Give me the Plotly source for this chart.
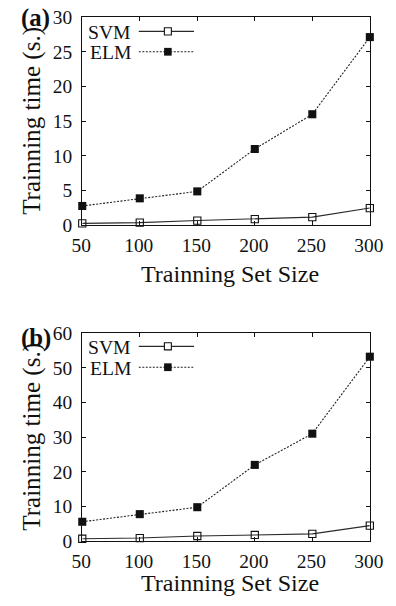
import plotly.graph_objects as go

W, H = 396, 606

# ---- data ----
sizes = [50, 100, 150, 200, 250, 300]
svm_a = [0.3, 0.4, 0.7, 0.9, 1.2, 2.5]
elm_a = [2.8, 3.9, 4.9, 11.0, 16.0, 27.1]
svm_b = [0.7, 0.9, 1.5, 1.8, 2.1, 4.5]
elm_b = [5.6, 7.8, 9.8, 22.0, 31.0, 53.2]

x_title = "Trainning Set Size"
y_title = "Trainning time (s.)"
panel_labels = ["(a)", "(b)"]
series_names = ["SVM", "ELM"]

FONT = "Liberation Serif"
INK = "#111111"

# layout placement helpers (target picture px -> paper fraction)
AX, SX = 3.2, 0.9663
AY, SY = 9.0, 0.971
S = (SX + SY) / 2


def fx(px):
    return ((px - AX) / SX) / W


def fy(py):
    return 1 - ((py - AY) / SY) / H


def fs(size):
    return size / S


panels = [
    dict(svm=svm_a, elm=elm_a, top=16, bottom=225.7, ymax=30, dt=5,
         xt=274.3, leg=[30.5, 51.0], lab=17.5),
    dict(svm=svm_b, elm=elm_b, top=334, bottom=543.3, ymax=60, dt=10,
         xt=585.0, leg=[347.3, 368.3], lab=339.0),
]
LEFT, RIGHT = 76.7, 373.3

fig = go.Figure()
for i, p in enumerate(panels):
    xa = "x" if i == 0 else "x2"
    ya = "y" if i == 0 else "y2"
    fig.add_trace(go.Scatter(
        x=sizes, y=p["svm"], mode="lines+markers", name=series_names[0],
        xaxis=xa, yaxis=ya, cliponaxis=False, showlegend=False,
        line=dict(color="#2a2a2a", width=1.1),
        marker=dict(symbol="square-open", size=fs(7), color=INK, line=dict(width=1.1, color=INK)),
    ))
    fig.add_trace(go.Scatter(
        x=sizes, y=p["elm"], mode="lines+markers", name=series_names[1],
        xaxis=xa, yaxis=ya, cliponaxis=False, showlegend=False,
        line=dict(color="#222222", width=1.1, dash="2px,1.5px"),
        marker=dict(symbol="square", size=fs(7.8), color=INK, line=dict(width=0)),
    ))

axis_common = dict(
    showline=True, linecolor=INK, linewidth=1.3, mirror="ticks",
    ticks="inside", ticklen=4, tickwidth=1, tickcolor=INK,
    showgrid=False, zeroline=False,
    tickfont=dict(family=FONT, size=fs(18.8), color=INK),
    ticklabeloverflow="allow",
)

layout = dict(
    width=W, height=H, margin=dict(l=0, r=0, t=0, b=0),
    paper_bgcolor="white", plot_bgcolor="white", showlegend=False,
    font=dict(family=FONT, color=INK),
)
for i, p in enumerate(panels):
    sfx = "" if i == 0 else str(i + 1)
    layout["xaxis" + sfx] = dict(
        axis_common, domain=[fx(LEFT), fx(RIGHT)], range=[50, 300],
        tickvals=sizes, anchor="y" + sfx, ticklabelstandoff=2, ticklabelshift=-1,
    )
    layout["yaxis" + sfx] = dict(
        axis_common, domain=[fy(p["bottom"]), fy(p["top"])],
        range=[0, p["ymax"]], dtick=p["dt"], tick0=0, anchor="x" + sfx,
        ticklabelstandoff=5,
    )
fig.update_layout(**layout)

annotations = []
shapes = []
for i, p in enumerate(panels):
    top, bottom = p["top"], p["bottom"]
    annotations.append(dict(
        text="<b>" + panel_labels[i] + "</b>", xref="paper", yref="paper",
        x=fx(11), y=fy(p["lab"]), xanchor="left", yanchor="middle", showarrow=False,
        font=dict(family=FONT, size=fs(24), color=INK),
    ))
    annotations.append(dict(
        text=x_title, xref="paper", yref="paper",
        x=fx(229), y=fy(p["xt"]), xanchor="center", yanchor="middle", showarrow=False,
        font=dict(family=FONT, size=fs(23.3), color=INK),
    ))
    annotations.append(dict(
        text=y_title, xref="paper", yref="paper", textangle=-90,
        x=fx(25.5), y=fy((top + bottom) / 2), xanchor="center", yanchor="middle",
        showarrow=False, font=dict(family=FONT, size=fs(24.3), color=INK),
    ))
    for j, name in enumerate(series_names):
        yy = p["leg"][j]
        annotations.append(dict(
            text=name, xref="paper", yref="paper",
            x=fx(129.5), y=fy(yy + 0.8), xanchor="right", yanchor="middle", showarrow=False,
            font=dict(family=FONT, size=fs(19), color=INK),
        ))
        shapes.append(dict(
            type="line", xref="paper", yref="paper",
            x0=fx(135), x1=fx(192), y0=fy(yy), y1=fy(yy),
            line=dict(color="#2a2a2a" if j == 0 else "#222222", width=1.1,
                      dash="solid" if j == 0 else "2px,1.5px"),
        ))
        hs = 3.6 if j == 0 else 3.9
        shapes.append(dict(
            type="rect", xref="paper", yref="paper",
            x0=fx(165 - hs), x1=fx(165 + hs), y0=fy(yy + hs), y1=fy(yy - hs),
            line=dict(color=INK, width=1.1 if j == 0 else 0),
            fillcolor="white" if j == 0 else INK,
        ))

fig.update_layout(annotations=annotations, shapes=shapes)

fig.write_html("out.html")
